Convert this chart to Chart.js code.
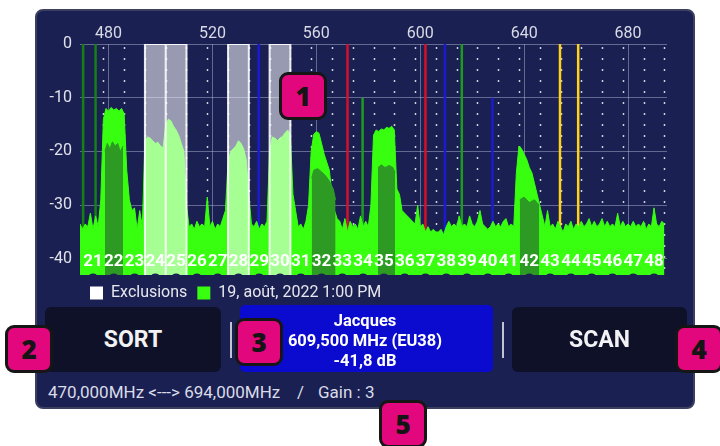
<!DOCTYPE html>
<html>
<head>
<meta charset="utf-8">
<script src="https://cdn.jsdelivr.net/npm/chart.js@4.4.1/dist/chart.umd.min.js"></script>
<style>
  html, body { margin: 0; padding: 0; background: #ffffff; }
  body { width: 720px; height: 446px; position: relative; overflow: hidden; font-family: Roboto, "Noto Sans", sans-serif; }
  .panel { position: absolute; left: 35px; top: 9px; width: 656px; height: 396px; background: #1b2052; border: 2px solid #3b4060; border-radius: 8px; }
  #spectrum { position: absolute; left: 0; top: 0; }
  .btn { position: absolute; top: 307px; height: 65px; background: #0f1128; border-radius: 6px; color: #f2f2f4; font-weight: 700; font-size: 23px; display: flex; align-items: center; justify-content: center; }
  .sep { position: absolute; top: 322px; width: 2px; height: 36px; background: #c0c3d2; }
  .sel { position: absolute; left: 240px; top: 305px; width: 253px; height: 67px; background: #0a0bcf; border-radius: 5px; }
  .sel div { position: absolute; left: 0; width: 250px; text-align: center; color: #ffffff; font-weight: 700; font-size: 16.5px; line-height: 20px; }
  .info { position: absolute; top: 382px; color: #d9dce8; font-size: 17px; line-height: 20px; white-space: pre; }
  .badge { position: absolute; width: 42px; height: 42px; background: #e2077c; border: 3px solid #161616; border-radius: 9px; color: #151515; font: 800 26px "Open Sans", sans-serif; display: flex; align-items: center; justify-content: center; }
</style>
</head>
<body>
<div class="panel"></div>
<canvas id="spectrum" width="720" height="311"></canvas>

<div class="btn" style="left:45px; width:176px;">SORT</div>
<div class="sep" style="left:230px;"></div>
<div class="sel">
  <div style="top:6px;">Jacques</div>
  <div style="top:26px;">609,500 MHz (EU38)</div>
  <div style="top:46px;">-41,8 dB</div>
</div>
<div class="sep" style="left:502px;"></div>
<div class="btn" style="left:512px; width:175px;">SCAN</div>

<div class="info" style="left:48px;">470,000MHz &lt;---&gt; 694,000MHz</div>
<div class="info" style="left:297px;">/</div>
<div class="info" style="left:318px;">Gain : 3</div>

<div class="badge" style="left:279px; top:72px;">1</div>
<div class="badge" style="left:5px; top:325px;">2</div>
<div class="badge" style="left:235px; top:318px;">3</div>
<div class="badge" style="left:675px; top:325px;">4</div>
<div class="badge" style="left:379px; top:400px;">5</div>

<script>
// scan: one level (dB) per MHz, starting at 469 MHz
const startMHz = 469;
const stepMHz = 1;
const levels = [
  -33.5, -34.5, -33.5, -34, -31.5, -34.5, -32, -34, -29, -14,      // 469-478
  -12, -12.5, -11.8, -12.3, -12, -12.5, -12, -13, -23.5, -29,      // 479-488
  -31, -30.5, -34.5, -31, -34, -18, -17.3, -17.5, -18, -18.5,      // 489-498
  -18.3, -19, -19.3, -15, -14, -14.3, -15.3, -16, -17, -18.5,      // 499-508
  -20, -30, -34, -33.5, -34.5, -33, -34, -33.5, -34, -28.5,        // 509-518
  -34, -33, -34.5, -33.5, -34, -32.5, -31, -22, -20, -19.5,        // 519-528
  -19, -18, -18.5, -19.5, -21.5, -28, -33.5, -34, -33, -34.5,      // 529-538
  -33.5, -34, -33, -20, -17.3, -17.5, -18, -17.5, -17.2, -16.5,    // 539-548
  -16, -17, -28, -31, -34, -33.5, -34.5, -33, -30, -20,            // 549-558
  -16.8, -16.3, -16.6, -18.5, -20.5, -22, -23.5, -28, -31, -32.5,  // 559-568
  -33, -34.5, -32.5, -35, -33, -34, -33.5, -34.5, -32, -34,        // 569-578
  -33, -34, -30, -17, -16, -16.3, -15.8, -16, -15.5, -15.7,        // 579-588
  -15.3, -16, -27, -28, -31, -31.5, -32, -32.5, -33, -33.5,        // 589-598
  -30, -34, -33.5, -35, -34, -35, -34.5, -35, -35, -34.5,          // 599-608
  -35.5, -34, -33, -34, -33.5, -34, -32, -34, -33.5, -34,          // 609-618
  -32, -33.5, -34, -33, -31, -33.5, -34, -34.5, -34, -33,          // 619-628
  -34, -33.5, -34, -33, -32.5, -34, -33.5, -34, -24, -19,          // 629-638
  -19.5, -20.5, -21.5, -23, -24, -26, -28, -30, -32, -34,          // 639-648
  -31, -34, -33.5, -34.5, -33, -34, -35, -33.5, -34, -33,          // 649-658
  -34.5, -33.5, -34, -33, -34, -33.5, -32.5, -34, -33, -34,        // 659-668
  -33.5, -32.5, -34, -33, -34, -33.5, -34, -31.5, -34, -33,        // 669-678
  -34, -33.5, -34, -33, -34, -33.5, -34, -33, -34.5, -33.5,        // 679-688
  -34, -30.5, -33.5, -34, -33, -33.5                               // 689-694
];

// darker trace patches (null = gap)
const avgFreqs = [478.6, 479.5, 480.5, 481.5, 482.5, 483.5, 484.5, 485.6, 485.6,
                  558.2, 559, 560.5, 562, 563.5, 565, 566.5, 567.4, 567.4,
                  583.7, 585, 586.5, 588, 589.5, 590.3, 590.3,
                  638.3, 640, 642, 644, 645.8];
const avgLevels = [-20, -18.5, -19.5, -18.2, -19, -18.5, -20, -19, null,
                   -25, -23.5, -23.2, -23.8, -24.5, -25.5, -27, -29, null,
                   -23, -22.5, -23, -22.6, -23, -24, null,
                   -29, -28.5, -29.5, -29, -30];

const channels = [21, 22, 23, 24, 25, 26, 27, 28, 29, 30, 31, 32, 33, 34,
                  35, 36, 37, 38, 39, 40, 41, 42, 43, 44, 45, 46, 47, 48];
const excludedChannels = [24, 25, 28, 30];

const markerFreqs = [470.2, 475, 537.8, 572, 577.8, 602, 609.5, 616, 627.8, 653.8, 660.8];
const markerTops = [0, 0, 0, 0, -10, 0, 0, 0, -10, 0, 0];
const markerColors = ['#168016', '#168016', '#1a1ad0', '#d4102a', '#1e9a1e', '#d4102a',
                      '#1a1ad0', '#1e9a1e', '#1a1ad0', '#ffd21a', '#ffd21a'];

const freqTicks = [480, 520, 560, 600, 640, 680];
const dbTicks = [0, -10, -20, -30, -40];

const LIME = '#38ff10';
const DARK_GREEN = '#2d9b23';
const FLOOR = -43;

const chStart = ch => 470 + (ch - 21) * 8;

const exclusionPoints = [];
excludedChannels.forEach(ch => {
    const lo = chStart(ch), hi = lo + 8;
    exclusionPoints.push({x: lo, y: FLOOR}, {x: lo, y: 0}, {x: hi, y: 0}, {x: hi, y: FLOOR}, {x: hi, y: null});
});

const overlays = {
    id: 'overlays',
    beforeDatasetsDraw(chart) {
        const {ctx, chartArea: a, scales: {x, y}} = chart;
        ctx.save();
        ctx.beginPath();
        ctx.rect(a.left, a.top, a.right - a.left, a.bottom - a.top);
        ctx.clip();
        // channel boundaries, dotted
        ctx.strokeStyle = 'rgba(255,255,255,0.8)';
        ctx.lineWidth = 1.5;
        ctx.setLineDash([2, 9]);
        channels.forEach(ch => {
            const px = Math.round(x.getPixelForValue(chStart(ch) + 8)) + 0.5;
            ctx.beginPath();
            ctx.moveTo(px, a.top + 3);
            ctx.lineTo(px, a.bottom);
            ctx.stroke();
        });
        ctx.setLineDash([]);
        // frequency markers
        ctx.lineWidth = 2.5;
        markerFreqs.forEach((f, i) => {
            const px = x.getPixelForValue(f);
            ctx.strokeStyle = markerColors[i];
            ctx.beginPath();
            ctx.moveTo(px, y.getPixelForValue(markerTops[i]));
            ctx.lineTo(px, a.bottom);
            ctx.stroke();
        });
        ctx.restore();
    },
    afterDatasetsDraw(chart) {
        const {ctx, chartArea: a, scales: {x}} = chart;
        ctx.save();
        ctx.fillStyle = '#ffffff';
        ctx.font = 'bold 17px Roboto';
        ctx.textAlign = 'center';
        ctx.textBaseline = 'middle';
        channels.forEach(ch => {
            ctx.fillText(String(ch), x.getPixelForValue(chStart(ch) + 4), 262);
        });
        // small bumps along the bottom edge
        ctx.fillStyle = '#1b2052';
        channels.forEach(ch => {
            const cx = x.getPixelForValue(chStart(ch) + 4);
            ctx.beginPath();
            ctx.ellipse(cx, a.bottom + 1, 4, 2.5, 0, Math.PI, 2 * Math.PI);
            ctx.fill();
        });
        ctx.restore();
    }
};

const ctx = document.getElementById('spectrum').getContext('2d');
Chart.defaults.font.family = 'Roboto';

new Chart(ctx, {
    type: 'line',
    data: {
        datasets: [
            {
                label: 'Exclusions',
                data: exclusionPoints,
                borderColor: 'rgba(255,255,255,0.9)',
                borderWidth: 2,
                backgroundColor: 'rgba(255,255,255,0.55)',
                fill: 'start',
                pointRadius: 0,
                spanGaps: false,
            },
            {
                label: '',
                data: avgFreqs.map((f, i) => ({x: f, y: avgLevels[i]})),
                borderColor: DARK_GREEN,
                borderWidth: 1,
                backgroundColor: DARK_GREEN,
                fill: 'start',
                pointRadius: 0,
                spanGaps: false,
            },
            {
                label: '19, août, 2022 1:00 PM',
                data: levels.map((v, i) => ({x: startMHz + i * stepMHz, y: v})),
                borderColor: LIME,
                borderWidth: 1,
                backgroundColor: LIME,
                fill: 'start',
                pointRadius: 0,
            },
        ],
    },
    options: {
        responsive: false,
        animation: false,
        layout: {
            padding: {left: 36, right: 53, top: 0, bottom: 0},
        },
        scales: {
            x: {
                type: 'linear',
                position: 'top',
                min: 469,
                max: 695,
                afterBuildTicks: axis => { axis.ticks = freqTicks.map(v => ({value: v})); },
                afterFit: axis => { axis.height = 44; },
                ticks: {
                    color: '#d8dbe6',
                    font: {size: 16},
                    padding: 0,
                    maxRotation: 0,
                    autoSkip: false,
                },
                grid: {
                    color: 'rgba(190,195,225,0.45)',
                    drawTicks: false,
                },
                border: {display: false},
            },
            y: {
                min: FLOOR,
                max: 0,
                afterBuildTicks: axis => { axis.ticks = dbTicks.map(v => ({value: v})); },
                afterFit: axis => { axis.width = 44; },
                ticks: {
                    color: '#e0e2ea',
                    font: {size: 16},
                    padding: 8,
                },
                grid: {
                    color: 'rgba(190,195,225,0.45)',
                    drawTicks: false,
                },
                border: {display: false},
            },
        },
        plugins: {
            tooltip: {enabled: false},
            legend: {
                position: 'bottom',
                align: 'start',
                fullSize: false,
                labels: {
                    color: '#e6e7ee',
                    font: {size: 16},
                    boxWidth: 13,
                    boxHeight: 13,
                    padding: 10,
                    generateLabels: chart => Chart.defaults.plugins.legend.labels.generateLabels(chart)
                        .filter(item => item.text !== '')
                        .map(item => Object.assign(item, {
                            fillStyle: item.text === 'Exclusions' ? '#ffffff' : LIME,
                            strokeStyle: 'rgba(0,0,0,0)',
                            lineWidth: 0,
                        })),
                },
            },
        },
    },
    plugins: [overlays],
});
</script>
</body>
</html>
